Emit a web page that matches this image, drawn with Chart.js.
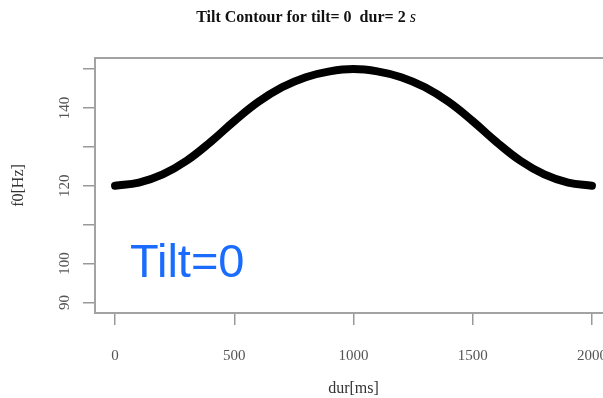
<!DOCTYPE html>
<html>
<head>
<meta charset="utf-8">
<script src="https://cdn.jsdelivr.net/npm/chart.js@4.4.1/dist/chart.umd.min.js"></script>
<style>
  html, body { margin: 0; padding: 0; background: #fff; overflow: hidden; }
  #wrap { width: 620px; height: 398px; overflow: hidden; }
  canvas { display: block; width: 620px; height: 398px; }
</style>
</head>
<body>
<div id="wrap"><canvas id="c" width="620" height="398"></canvas></div>
<script>
// Tilt contour samples: time (ms) and F0 (Hz)
const durMs = [0, 100, 200, 300, 400, 500, 600, 700, 800, 900, 1000,
               1100, 1200, 1300, 1400, 1500, 1600, 1700, 1800, 1900, 2000];
const f0Hz  = [120, 120.8, 122.9, 126.4, 131.2, 136.6, 141.5, 145.3, 147.9, 149.4, 150,
               149.4, 147.9, 145.3, 141.5, 136.6, 131.2, 126.4, 122.9, 120.8, 120];

// Axis ticks
const xTickValues = [0, 500, 1000, 1500, 2000];
const yTickValues = [90, 100, 110, 120, 130, 140, 150];
const yTickLabels = ['90', '100', '', '120', '', '140', ''];

const titleMain = 'Tilt Contour for tilt= 0  dur= 2 ';
const titleUnit = 's';
const xTitle = 'dur[ms]';
const yTitle = 'f0[Hz]';
const noteText = 'Tilt=0';

const SERIF = '"Liberation Serif", "DejaVu Serif", serif';
const SANS = '"Liberation Sans", Arial, sans-serif';

const decorations = {
  id: 'decorations',
  beforeDraw(chart) {
    const ctx = chart.ctx;
    ctx.save();
    ctx.fillStyle = '#ffffff';
    ctx.fillRect(0, 0, chart.width, chart.height);
    ctx.restore();
  },
  afterDraw(chart) {
    const ctx = chart.ctx;
    const a = chart.chartArea;
    const ys = chart.scales.y;
    ctx.save();

    // plot frame (its right side runs past the visible edge)
    ctx.strokeStyle = '#a3a3a3';
    ctx.lineWidth = 2;
    ctx.strokeRect(a.left, a.top, a.right - a.left, a.bottom - a.top);

    // main title, with italic unit
    ctx.fillStyle = '#111';
    ctx.textBaseline = 'alphabetic';
    ctx.font = 'bold 16px ' + SERIF;
    const w1 = ctx.measureText(titleMain).width;
    ctx.font = 'italic 16px ' + SERIF;
    const w2 = ctx.measureText(titleUnit).width;
    const tx = 306 - (w1 + w2) / 2;
    ctx.font = 'bold 16px ' + SERIF;
    ctx.textAlign = 'left';
    ctx.fillText(titleMain, tx, 22);
    ctx.font = 'italic 16px ' + SERIF;
    ctx.fillText(titleUnit, tx + w1, 22);

    // y tick labels, rotated
    ctx.fillStyle = '#555';
    ctx.font = '15px ' + SERIF;
    ctx.textAlign = 'center';
    ctx.textBaseline = 'middle';
    yTickValues.forEach((v, i) => {
      const lbl = yTickLabels[i];
      if (!lbl) return;
      const py = ys.getPixelForValue(v);
      ctx.save();
      ctx.translate(65, py);
      ctx.rotate(-Math.PI / 2);
      ctx.fillText(lbl, 0, 0);
      ctx.restore();
    });

    // axis titles
    ctx.fillStyle = '#333';
    ctx.font = '16px ' + SERIF;
    ctx.fillText(xTitle, (a.left + a.right) / 2, 389);
    ctx.save();
    ctx.translate(19, (a.top + a.bottom) / 2);
    ctx.rotate(-Math.PI / 2);
    ctx.fillText(yTitle, 0, 0);
    ctx.restore();

    // note
    ctx.fillStyle = '#1a6cff';
    ctx.font = '47px ' + SANS;
    ctx.textAlign = 'left';
    ctx.textBaseline = 'alphabetic';
    ctx.fillText(noteText, 130, 277);

    ctx.restore();
  }
};

new Chart(document.getElementById('c'), {
  type: 'line',
  data: {
    datasets: [{
      data: durMs.map((t, i) => ({ x: t, y: f0Hz[i] })),
      borderColor: '#000',
      borderWidth: 8,
      borderCapStyle: 'round',
      borderJoinStyle: 'round',
      tension: 0.4,
      pointRadius: 0,
      fill: false,
      clip: false
    }]
  },
  options: {
    responsive: false,
    devicePixelRatio: 1,
    animation: false,
    layout: { padding: { left: 0, top: 58, right: 8, bottom: 0 } },
    plugins: { legend: { display: false }, title: { display: false }, tooltip: { enabled: false } },
    scales: {
      x: {
        type: 'linear',
        min: -84,
        max: 2084,
        afterBuildTicks: s => { s.ticks = xTickValues.map(v => ({ value: v })); },
        afterFit: s => { s.height = 85; s.paddingLeft = 0; s.paddingRight = 0; },
        border: { display: false },
        grid: { drawOnChartArea: false, drawTicks: true, tickLength: 12, color: '#999', lineWidth: 1.5 },
        ticks: {
          color: '#555',
          font: { family: SERIF, size: 15 },
          padding: 22,
          maxRotation: 0,
          autoSkip: false,
          callback: v => String(v)
        }
      },
      y: {
        type: 'linear',
        min: 87.27,
        max: 152.83,
        afterBuildTicks: s => { s.ticks = yTickValues.map(v => ({ value: v })); },
        afterFit: s => { s.width = 95; s.paddingTop = 0; s.paddingBottom = 0; },
        border: { display: false },
        grid: { drawOnChartArea: false, drawTicks: true, tickLength: 12, color: '#999', lineWidth: 1.5 },
        ticks: { display: false }
      }
    }
  },
  plugins: [decorations]
});
</script>
</body>
</html>
